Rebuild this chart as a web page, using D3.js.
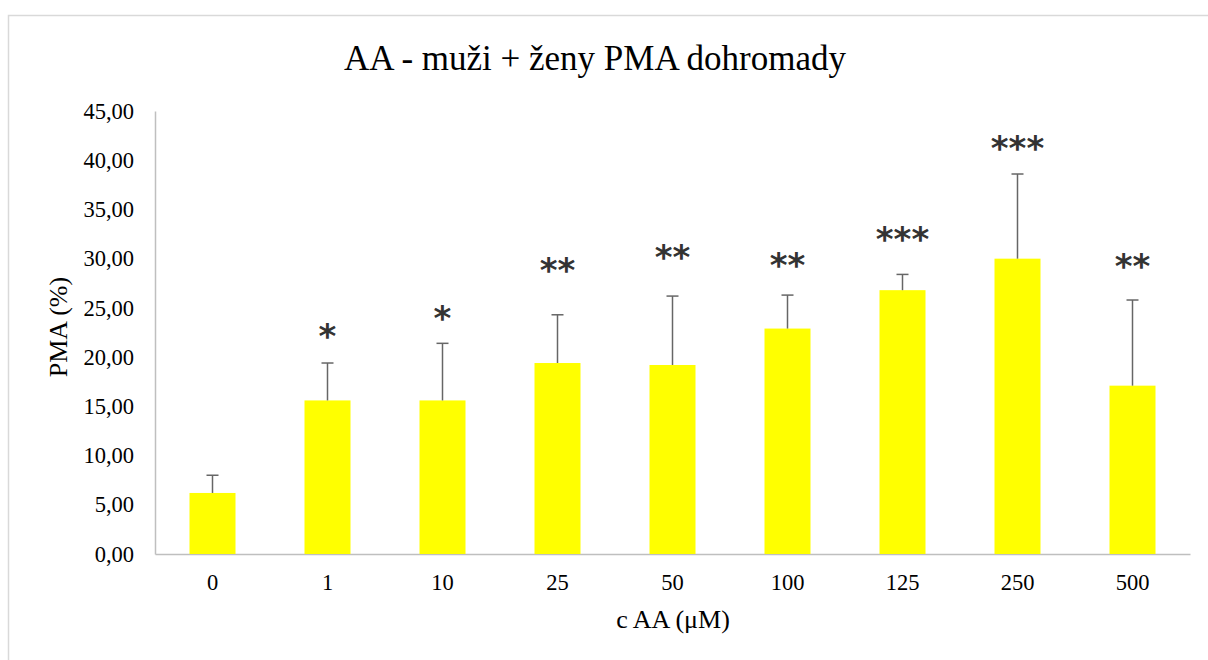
<!DOCTYPE html>
<html>
<head>
<meta charset="utf-8">
<script src="https://cdn.jsdelivr.net/npm/d3@7"></script>
<style>
  body { margin: 0; background: #fff; }
  svg { display: block; }
</style>
</head>
<body>
<div id="chart"></div>
<script>
// data
var concentrations = ['0', '1', '10', '25', '50', '100', '125', '250', '500'];
var pmaMean = [6.2, 15.6, 15.6, 19.4, 19.2, 22.9, 26.8, 30.0, 17.1];
var pmaErr  = [1.8, 3.8, 5.8, 4.9, 7.0, 3.4, 1.6, 8.6, 8.7];
var stars   = ['', '*', '*', '**', '**', '**', '***', '***', '**'];
var starLevel = [0, 22.8, 24.6, 29.5, 30.8, 30.0, 32.6, 41.9, 29.9];
var yTicks = [0, 5, 10, 15, 20, 25, 30, 35, 40, 45];

(function() {
  var width = 1208, height = 660;
  var plotLeft = 155, plotRight = 1190, plotTop = 111, plotBottom = 554;
  var serif = '"Liberation Serif", "Times New Roman", serif';

  var svg = d3.select('#chart').append('svg')
    .attr('width', width)
    .attr('height', height);

  // outer chart frame
  svg.append('rect')
    .attr('x', 8.5).attr('y', 15.5)
    .attr('width', 1210).attr('height', 660)
    .attr('fill', 'none')
    .attr('stroke', '#d9d9d9')
    .attr('stroke-width', 1.5);

  var x = d3.scaleBand()
    .domain(concentrations)
    .range([plotLeft, plotRight])
    .paddingInner(0.6)
    .paddingOuter(0.3);

  var y = d3.scaleLinear()
    .domain([0, 45])
    .range([plotBottom, plotTop]);

  var fmt = function(d) { return d3.format('.2f')(d).replace('.', ','); };

  // y axis
  var yAxis = svg.append('g')
    .attr('transform', 'translate(' + plotLeft + ',0)')
    .call(d3.axisLeft(y).tickValues(yTicks).tickFormat(fmt).tickSize(0).tickPadding(21));
  yAxis.select('.domain').attr('stroke', '#bfbfbf').attr('stroke-width', 1.5);
  yAxis.selectAll('text')
    .attr('font-family', serif)
    .attr('font-size', 22.5)
    .attr('fill', '#000');

  // x axis
  var xAxis = svg.append('g')
    .attr('transform', 'translate(0,' + plotBottom + ')')
    .call(d3.axisBottom(x).tickSize(0).tickPadding(20));
  xAxis.select('.domain').attr('stroke', '#bfbfbf').attr('stroke-width', 1.5);
  xAxis.selectAll('text')
    .attr('font-family', serif)
    .attr('font-size', 22.5)
    .attr('fill', '#000');

  // bars
  svg.append('g').selectAll('rect')
    .data(concentrations)
    .join('rect')
    .attr('x', function(d) { return x(d); })
    .attr('y', function(d, i) { return y(pmaMean[i]); })
    .attr('width', x.bandwidth())
    .attr('height', function(d, i) { return y(0) - y(pmaMean[i]); })
    .attr('fill', '#ffff00');

  // error bars (upper only)
  var eb = svg.append('g')
    .attr('stroke', '#666')
    .attr('stroke-width', 1.5);
  concentrations.forEach(function(c, i) {
    var cx = x(c) + x.bandwidth() / 2;
    var yt = y(pmaMean[i] + pmaErr[i]);
    eb.append('line')
      .attr('x1', cx).attr('x2', cx)
      .attr('y1', y(pmaMean[i])).attr('y2', yt);
    eb.append('line')
      .attr('x1', cx - 6).attr('x2', cx + 6)
      .attr('y1', yt).attr('y2', yt);
  });

  // significance stars
  svg.append('g').selectAll('text')
    .data(concentrations)
    .join('text')
    .attr('x', function(d) { return x(d) + x.bandwidth() / 2; })
    .attr('y', function(d, i) { return y(starLevel[i]); })
    .attr('dy', '0.53em')
    .attr('text-anchor', 'middle')
    .attr('font-family', '"DejaVu Sans", sans-serif')
    .attr('font-weight', 'bold')
    .attr('font-size', 34)
    .attr('fill', '#333')
    .text(function(d, i) { return stars[i]; });

  // title
  svg.append('text')
    .attr('x', 595).attr('y', 70)
    .attr('text-anchor', 'middle')
    .attr('font-family', serif)
    .attr('font-size', 35)
    .text('AA - muži + ženy PMA dohromady');

  // axis titles
  svg.append('text')
    .attr('x', 673).attr('y', 628)
    .attr('text-anchor', 'middle')
    .attr('font-family', serif)
    .attr('font-size', 26)
    .text('c AA (μM)');

  svg.append('text')
    .attr('transform', 'translate(67,327) rotate(-90)')
    .attr('text-anchor', 'middle')
    .attr('font-family', serif)
    .attr('font-size', 26)
    .text('PMA (%)');
})();
</script>
</body>
</html>
